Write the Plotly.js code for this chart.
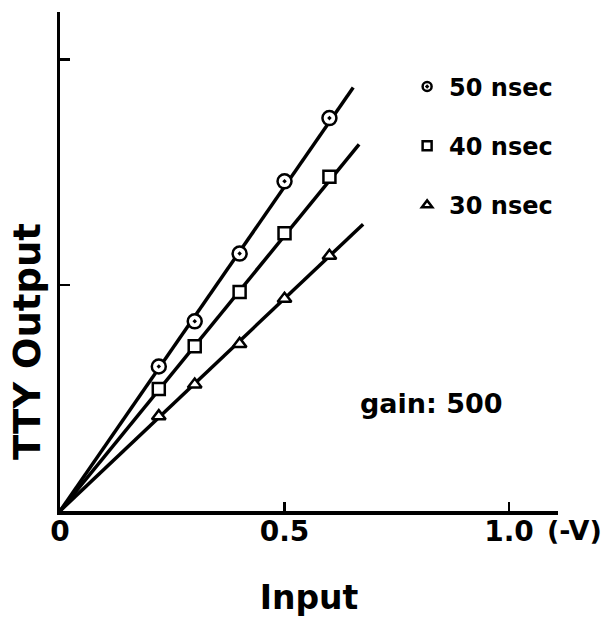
<!DOCTYPE html>
<html>
<head>
<meta charset="utf-8">
<script src="https://cdn.plot.ly/plotly-3.0.1.min.js"></script>
<style>
  html, body { margin: 0; padding: 0; background: #fff; }
  #chart { width: 612px; height: 617px; }
</style>
</head>
<body>
<div id="chart"></div>
<script>
// ---- data ----
const inputV   = [0.22, 0.30, 0.40, 0.50, 0.60];
const out50    = [0.64, 0.84, 1.14, 1.46, 1.74];
const out40    = [0.54, 0.73, 0.97, 1.23, 1.48];
const out30    = [0.42, 0.56, 0.74, 0.94, 1.13];
// fitted straight lines through the origin (start, end)
const fit50X = [0, 0.653], fit50Y = [0, 1.876];
const fit40X = [0, 0.666], fit40Y = [0, 1.624];
const fit30X = [0, 0.675], fit30Y = [0, 1.270];
const seriesNames = ['50 nsec', '40 nsec', '30 nsec'];
const xTickVals  = [0, 0.5, 1.0];
const xTickText  = ['0', '0.5', '1.0'];
const yTickVals  = [1, 2];

const FONT = 'DejaVu Sans';
const lineStyle = {color: 'black', width: 3.5};

function fitTrace(x, y) {
  return {x: x, y: y, mode: 'lines', line: lineStyle, showlegend: false, hoverinfo: 'skip'};
}
function markerTrace(y, symbol, size) {
  return {
    x: inputV, y: y, mode: 'markers', showlegend: false,
    marker: {symbol: symbol, size: size, color: 'white', line: {color: 'black', width: 2.5}}
  };
}
// legend-only entries (smaller key symbols, as in the reference)
function legendTrace(name, symbol, group) {
  return {
    x: [null], y: [null], mode: 'markers', name: name, legendgroup: group,
    marker: {symbol: symbol, size: 9, color: 'white', line: {color: 'black', width: 2.5}}
  };
}

const data = [
  fitTrace(fit50X, fit50Y),
  fitTrace(fit40X, fit40Y),
  fitTrace(fit30X, fit30Y),
  markerTrace(out50, 'circle-dot', 14),
  markerTrace(out40, 'square', 12),
  markerTrace(out30, 'triangle-up', 12),
  legendTrace(seriesNames[0], 'circle-dot', 'a'),
  legendTrace(seriesNames[1], 'square', 'b'),
  legendTrace(seriesNames[2], 'triangle-up', 'c')
];

const layout = {
  width: 612, height: 617,
  margin: {l: 60, r: 54, t: 12, b: 106},
  paper_bgcolor: 'white', plot_bgcolor: 'white',
  font: {family: FONT, color: 'black', weight: 'bold'},
  showlegend: true,
  legend: {
    x: 0.693, y: 0.895, xanchor: 'left', yanchor: 'top',
    font: {family: FONT, size: 24, color: 'black', weight: 'bold'},
    tracegroupgap: 25, itemsizing: 'trace', bgcolor: 'rgba(0,0,0,0)',
    entrywidth: 0, itemwidth: 34
  },
  xaxis: {
    range: [0, 1.109], showgrid: false, zeroline: false,
    showline: true, linecolor: 'black', linewidth: 3.5,
    ticks: 'inside', ticklen: 9, tickwidth: 2.5, tickcolor: 'black',
    tickvals: xTickVals, ticktext: xTickText, ticklabelstandoff: -7,
    tickfont: {family: FONT, size: 28, color: 'black', weight: 'bold'},
    title: {text: 'Input', standoff: 40, font: {family: FONT, size: 33, color: 'black', weight: 'bold'}},
    fixedrange: true
  },
  yaxis: {
    range: [0, 2.21], showgrid: false, zeroline: false,
    showline: true, linecolor: 'black', linewidth: 3.5,
    ticks: 'inside', ticklen: 10, tickwidth: 2.5, tickcolor: 'black',
    tickvals: yTickVals, showticklabels: false,
    fixedrange: true
  },
  annotations: [
    {text: 'TTY Output', textangle: -90, xref: 'paper', yref: 'paper',
     x: -0.065, y: 0.34, xanchor: 'center', yanchor: 'middle', showarrow: false,
     font: {family: FONT, size: 37, color: 'black', weight: 'bold'}},
    {text: '(-V)', xref: 'paper', yref: 'paper',
     x: 1.034, y: -0.04, xanchor: 'center', yanchor: 'middle', showarrow: false,
     font: {family: FONT, size: 27, color: 'black', weight: 'bold'}},
    {text: 'gain: 500', xref: 'paper', yref: 'paper',
     x: 0.745, y: 0.215, xanchor: 'center', yanchor: 'middle', showarrow: false,
     font: {family: FONT, size: 27, color: 'black', weight: 'bold'}}
  ]
};

Plotly.newPlot('chart', data, layout, {staticPlot: true, displayModeBar: false});
</script>
</body>
</html>
